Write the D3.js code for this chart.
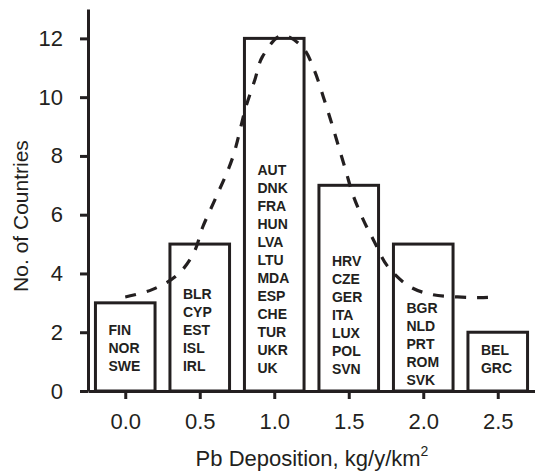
<!DOCTYPE html>
<html>
<head>
<meta charset="utf-8">
<script src="https://cdn.jsdelivr.net/npm/d3@7"></script>
<style>
  body { margin: 0; background: #fff; }
  svg { display: block; font-family: "Liberation Sans", Arial, sans-serif; }
</style>
</head>
<body>
<div class="chart"></div>
<script>
// bins of Pb deposition and the number of countries in each
const bins = [0.0, 0.5, 1.0, 1.5, 2.0, 2.5]
const counts = [3, 5, 12, 7, 5, 2]
const countries = [
  ["FIN", "NOR", "SWE"],
  ["BLR", "CYP", "EST", "ISL", "IRL"],
  ["AUT", "DNK", "FRA", "HUN", "LVA", "LTU", "MDA", "ESP", "CHE", "TUR", "UKR", "UK"],
  ["HRV", "CZE", "GER", "ITA", "LUX", "POL", "SVN"],
  ["BGR", "NLD", "PRT", "ROM", "SVK"],
  ["BEL", "GRC"]
]
const yTicks = [0, 2, 4, 6, 8, 10, 12]

// dashed fitted curve
const curveX = [0.0, 0.18, 0.35, 0.46, 0.52, 0.61, 0.72, 0.81, 0.87, 0.92, 1.05, 1.19, 1.27, 1.33, 1.38, 1.43, 1.48, 1.53, 1.60, 1.67, 1.76, 1.91, 2.06, 2.23, 2.38, 2.5]
const curveY = [3.2, 3.45, 3.95, 4.7, 5.58, 6.6, 7.93, 9.67, 10.59, 11.37, 12.1, 11.7, 10.9, 10.0, 9.2, 8.35, 7.5, 6.65, 5.8, 5.1, 4.25, 3.55, 3.28, 3.2, 3.18, 3.2]

const ink = "#231f20"
const W = 535, H = 476
const margin = { top: 9, right: 0, bottom: 85, left: 88 }

const svg = d3.select(".chart")
  .append("svg")
  .attr("width", W)
  .attr("height", H)

const xScale = d3.scaleLinear()
  .domain([-0.25, 2.75])
  .range([margin.left, W - margin.right])

const yScale = d3.scaleLinear()
  .domain([0, 13])
  .range([H - margin.bottom, margin.top])

const barW = 0.4
// where the last label line sits, in px above the axis (layout only)
const labelLift = [20, 20, 18, 17, 6, 18]

// bars
const bars = svg.selectAll(".bar")
  .data(bins.map((b, i) => ({ bin: b, n: counts[i], names: countries[i], lift: labelLift[i] })))
  .join("g")
  .attr("class", "bar")

bars.append("rect")
  .attr("x", d => xScale(d.bin - barW / 2))
  .attr("y", d => yScale(d.n))
  .attr("width", d => xScale(d.bin + barW / 2) - xScale(d.bin - barW / 2))
  .attr("height", d => yScale(0) - yScale(d.n))
  .attr("fill", "#fff")
  .attr("stroke", ink)
  .attr("stroke-width", 3)

bars.append("text")
  .attr("font-size", 14)
  .attr("font-weight", "bold")
  .attr("fill", ink)
  .selectAll("tspan")
  .data(d => d.names.map((s, j) => ({ s, j, d })))
  .join("tspan")
  .attr("x", t => xScale(t.d.bin - barW / 2) + 13)
  .attr("y", t => yScale(0) - t.d.lift - (t.d.names.length - 1 - t.j) * 18)
  .text(t => t.s)

// dashed curve
const line = d3.line()
  .x(d => xScale(d[0]))
  .y(d => yScale(d[1]))
  .curve(d3.curveCatmullRom)

svg.append("path")
  .datum(curveX.map((x, i) => [x, curveY[i]]))
  .attr("d", line)
  .attr("fill", "none")
  .attr("stroke", ink)
  .attr("stroke-width", 3.2)
  .attr("stroke-dasharray", "11,11")

// axes
const xAxis = d3.axisBottom(xScale)
  .tickValues(bins)
  .tickFormat(d3.format(".1f"))
  .tickSize(8)
  .tickSizeOuter(0)
  .tickPadding(14)

const yAxis = d3.axisLeft(yScale)
  .tickValues(yTicks)
  .tickSize(8)
  .tickSizeOuter(0)
  .tickPadding(17)

svg.append("g")
  .attr("class", "axis x-axis")
  .attr("transform", `translate(0, ${yScale(0)})`)
  .call(xAxis)

svg.append("g")
  .attr("class", "axis y-axis")
  .attr("transform", `translate(${margin.left}, 0)`)
  .call(yAxis)

svg.selectAll(".axis path, .axis line")
  .attr("stroke", ink)
  .attr("stroke-width", 3)
svg.selectAll(".axis text")
  .attr("font-size", 22)
  .attr("font-family", "'Liberation Sans', Arial, sans-serif")
  .attr("fill", ink)

// titles
svg.append("text")
  .attr("transform", "translate(28, 216) rotate(-90)")
  .attr("text-anchor", "middle")
  .attr("font-size", 21)
  .attr("fill", ink)
  .text("No. of Countries")

const xt = svg.append("text")
  .attr("x", 312)
  .attr("y", 466)
  .attr("text-anchor", "middle")
  .attr("font-size", 22)
  .attr("fill", ink)
xt.append("tspan").text("Pb Deposition, kg/y/km")
xt.append("tspan")
  .attr("font-size", 14)
  .attr("dy", -10)
  .text("2")
</script>
</body>
</html>
